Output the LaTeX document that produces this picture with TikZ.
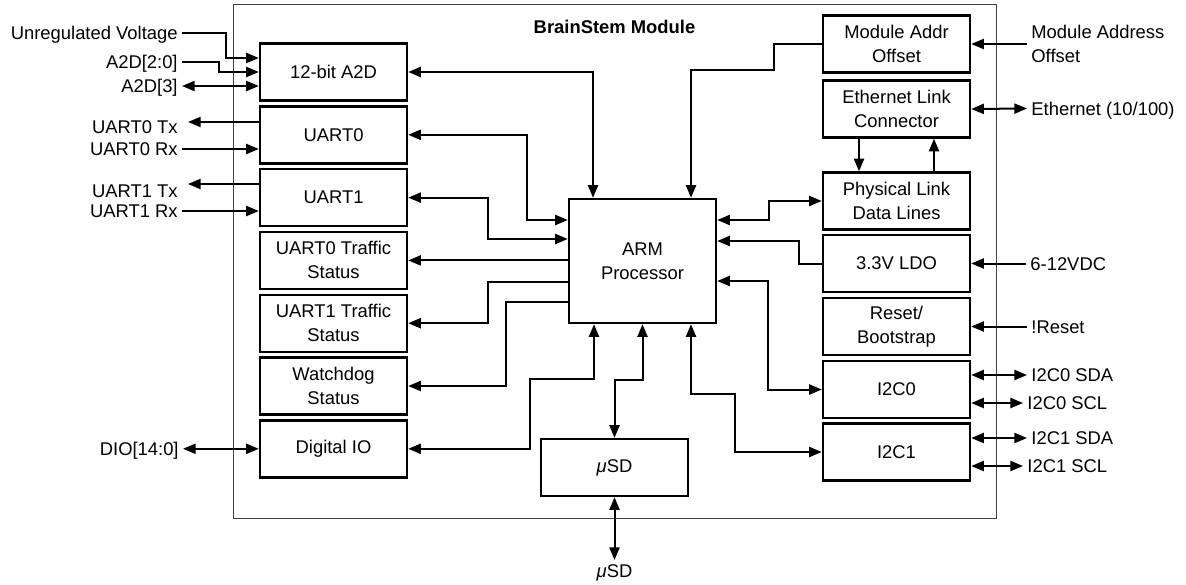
\documentclass[tikz,border=0pt]{standalone}
\usepackage{fontspec}
\setmainfont{Liberation Sans}
\usetikzlibrary{arrows.meta}

\begin{document}
\begin{tikzpicture}[
  x=0.5pt, y=-0.5pt,
  >={Triangle[length=6.3pt,width=5pt]},
  blk/.style={draw, line width=1.2pt, minimum width=73.5pt, minimum height=28.5pt, align=center, inner sep=1pt, font=\fontsize{9.2}{12}\selectfont},
  armblk/.style={blk, minimum height=62pt},
  lbl/.style={inner sep=2pt, text height=6.6pt, text depth=0pt, font=\fontsize{9.2}{12}\selectfont},
  lbltwo/.style={inner sep=2pt, align=left, font=\fontsize{9.2}{12}\selectfont},
  wire/.style={line width=1pt}
]
\useasboundingbox (0,0) rectangle (1186,584);

% Module outline and title
\draw[line width=0.5pt, black!75] (233,4) rectangle (996,518);
\node[lbl, font=\fontsize{9.2}{12}\selectfont\bfseries] (title) at (614.5,27) {BrainStem Module};

% Left column
\node[blk] (a2d) at (333.5,72) {12-bit A2D};
\node[blk] (uart0) at (333.5,134.8) {UART0};
\node[blk] (uart1) at (333.5,197.6) {UART1};
\node[blk] (uart0ts) at (333.5,260.4) {UART0 Traffic\\Status};
\node[blk] (uart1ts) at (333.5,323.2) {UART1 Traffic\\Status};
\node[blk] (wdog) at (333.5,386) {Watchdog\\Status};
\node[blk] (dio) at (333.5,448.8) {Digital IO};

% Centre
\node[armblk] (arm) at (642.5,261) {ARM\\Processor};
\node[blk] (usd) at (614.5,467.5) {{\itshape μ}SD};

% Right column
\node[blk] (addr) at (896.5,44) {Module Addr\\Offset};
\node[blk] (eth) at (896.5,109) {Ethernet Link\\Connector};
\node[blk] (phy) at (896.5,201) {Physical Link\\Data Lines};
\node[blk] (ldo) at (896.5,263.5) {3.3V LDO};
\node[blk] (reset) at (896.5,326.5) {Reset/\\Bootstrap};
\node[blk] (i2c0) at (896.5,389.5) {I2C0};
\node[blk] (i2c1) at (896.5,452) {I2C1};

% Outside signals, left
\node[lbl, anchor=east] (unreg) at (182,33) {Unregulated Voltage};
\node[lbl, anchor=east] (a2dlo) at (182,62) {A2D[2:0]};
\node[lbl, anchor=east] (a2dhi) at (182,86) {A2D[3]};
\node[lbl, anchor=east] (u0tx) at (182,127) {UART0 Tx};
\node[lbl, anchor=east] (u0rx) at (182,149) {UART0 Rx};
\node[lbl, anchor=east] (u1tx) at (182,191) {UART1 Tx};
\node[lbl, anchor=east] (u1rx) at (182,211) {UART1 Rx};
\node[lbl, anchor=east] (diol) at (183,448.8) {DIO[14:0]};

% Outside signals, right and bottom
\node[lbltwo, anchor=west] (addrl) at (1027,44) {Module Address\\Offset};
\node[lbl, anchor=west] (ethl) at (1027,108.5) {Ethernet (10/100)};
\node[lbl, anchor=west] (ldol) at (1026,263.5) {6-12VDC};
\node[lbl, anchor=west] (rstl) at (1027,326.5) {!Reset};
\node[lbl, anchor=west] (sda0) at (1027,375) {I2C0 SDA};
\node[lbl, anchor=west] (scl0) at (1023,403) {I2C0 SCL};
\node[lbl, anchor=west] (sda1) at (1027,438) {I2C1 SDA};
\node[lbl, anchor=west] (scl1) at (1023,466) {I2C1 SCL};
\node[lbl, anchor=north] (usdl) at (614.5,560) {{\itshape μ}SD};

% Left inputs and outputs
\draw[wire, ->] (unreg.east) -| (226,58) -- (a2d.west |- 0,58);
\draw[wire, ->] (a2dlo.east) -| (219,72) -- (a2d.west);
\draw[wire, <->] (a2dhi.east) -- (a2d.west |- a2dhi);
\draw[wire, ->] (uart0.west |- 0,122) -- ([xshift=3pt,yshift=2.5pt]u0tx.east);
\draw[wire, ->] (u0rx.east) -- (uart0.west |- u0rx);
\draw[wire, ->] (uart1.west |- 0,184) -- ([xshift=3pt,yshift=3.5pt]u1tx.east);
\draw[wire, ->] (u1rx.east) -- (uart1.west |- u1rx);
\draw[wire, <->] (diol.east) -- (dio.west);

% Left column to ARM
\draw[wire, <->] (a2d.east) -| (arm.north -| 593,0);
\draw[wire, <->] (uart0.east) -| (527,220) -- (arm.west |- 0,220);
\draw[wire, <->] (uart1.east) -| (488,239) -- (arm.west |- 0,239);
\draw[wire, ->] (arm.west |- uart0ts) -- (uart0ts.east);
\draw[wire, ->] (arm.west |- 0,282) -- (488,282) |- (uart1ts.east);
\draw[wire, ->] (arm.west |- 0,302) -- (506,302) |- (wdog.east);
\draw[wire, <->] (dio.east) -| (530,379) -| (arm.south -| 594,0);

% ARM to uSD and right column
\draw[wire, <->] (arm.south) -- (642.5,380) -| (usd.north);
\draw[wire, <->] (arm.south -| 691,0) |- (735,394) |- (i2c1.west);
\draw[wire, <->] (arm.east |- 0,281) -- (768,281) |- (i2c0.west);
\draw[wire, <->] (arm.east |- 0,220) -- (769,220) |- (phy.west);
\draw[wire, <-] (arm.east |- 0,241) -- (799,241) |- (ldo.west);
\draw[wire, ->] (addr.west) -| (774,70) -| (arm.north -| 691,0);
\draw[wire, ->] (eth.south -| 859,0) -- (phy.north -| 859,0);
\draw[wire, ->] (phy.north -| 934,0) -- (eth.south -| 934,0);

% Right inputs and outputs
\draw[wire, ->] (addrl.west) -- (addr.east);
\draw[wire, <->] (eth.east) -- (ethl.west);
\draw[wire, ->] (ldol.west) -- (ldo.east);
\draw[wire, ->] (rstl.west) -- (reset.east);
\draw[wire, <->] (i2c0.east |- sda0) -- (sda0.west);
\draw[wire, <->] (i2c0.east |- scl0) -- (scl0.west);
\draw[wire, <->] (i2c1.east |- sda1) -- (sda1.west);
\draw[wire, <->] (i2c1.east |- scl1) -- (scl1.west);
\draw[wire, <->] (usd.south) -- (usdl.north);

\end{tikzpicture}
\end{document}
